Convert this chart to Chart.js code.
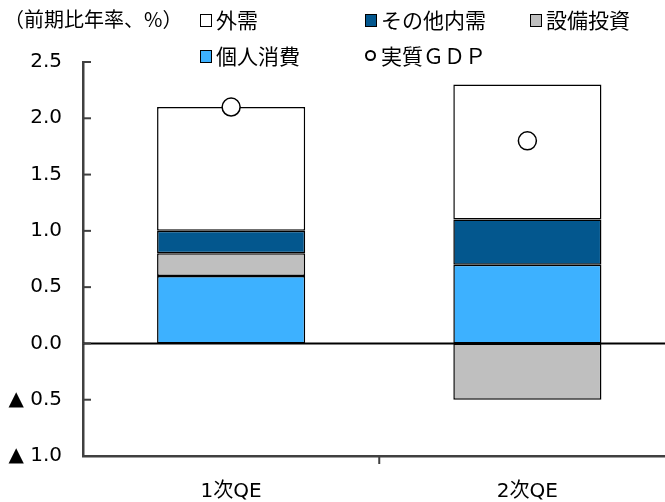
<!DOCTYPE html>
<html>
<head>
<meta charset="utf-8">
<script src="https://cdn.jsdelivr.net/npm/chart.js@4"></script>
<style>
  html, body { margin: 0; padding: 0; background: #fff; overflow: hidden; }
  #wrap { position: relative; width: 686px; height: 502px; }
  .lbl { position: absolute; font-family: "Noto Sans CJK JP", "DejaVu Sans", sans-serif; font-size: 21px; color: #000; white-space: nowrap; line-height: 1; }
  .box { display: inline-block; width: 10px; height: 11px; border: 1.5px solid #000; vertical-align: 1px; margin-right: 4px; }
  .dot { display: inline-block; width: 7px; height: 7px; border: 2px solid #000; border-radius: 50%; vertical-align: 3px; margin-right: 5px; }
</style>
</head>
<body>
<div id="wrap">
  <canvas id="chart" width="686" height="502"></canvas>
  <div class="lbl" style="left:4px; top:9px; font-size:20px;">（前期比年率、%）</div>
  <div class="lbl" style="left:200px; top:9px;"><span class="box" style="background:#fff"></span>外需</div>
  <div class="lbl" style="left:365px; top:9px;"><span class="box" style="background:#03578E"></span>その他内需</div>
  <div class="lbl" style="left:530px; top:9px;"><span class="box" style="background:#BFBFBF"></span>設備投資</div>
  <div class="lbl" style="left:200px; top:45px;"><span class="box" style="background:#3DB1FF"></span>個人消費</div>
  <div class="lbl" style="left:365px; top:45px;"><span class="dot"></span>実質ＧＤＰ</div>
</div>
<script>
// データ
const categories = ['1次QE', '2次QE'];
const kojinShohi = [0.6, 0.7];
const setsubiToshi = [0.2, -0.5];
const sonotaNaiju = [0.2, 0.4];
const gaiju = [1.1, 1.2];
const realGdp = [2.1, 1.8];
const yTicks = [-1.0, -0.5, 0.0, 0.5, 1.0, 1.5, 2.0, 2.5];

const colors = {
    lightBlue: '#3DB1FF',
    gray: '#BFBFBF',
    darkBlue: '#03578E',
    white: '#FFFFFF',
    axis: '#404040'
};

const numFont = { family: '"DejaVu Sans", "Noto Sans CJK JP", sans-serif', size: 20 };

// 目盛り線・ゼロ線を描くプラグイン
const axisPlugin = {
    id: 'axisPlugin',
    afterDatasetsDraw(chart) {
        const ctx = chart.ctx;
        const area = chart.chartArea;
        const y = chart.scales.y;
        const x = chart.scales.x;
        ctx.save();
        // ゼロ線
        ctx.strokeStyle = '#000';
        ctx.lineWidth = 2;
        ctx.beginPath();
        ctx.moveTo(area.left, y.getPixelForValue(0));
        ctx.lineTo(area.right, y.getPixelForValue(0));
        ctx.stroke();
        // y軸の内向き目盛り
        ctx.strokeStyle = colors.axis;
        ctx.lineWidth = 2;
        yTicks.forEach(v => {
            const py = y.getPixelForValue(v);
            ctx.beginPath();
            ctx.moveTo(area.left, py);
            ctx.lineTo(area.left + 8, py);
            ctx.stroke();
        });
        // x軸の区切り目盛り
        for (let i = 0; i < categories.length - 1; i++) {
            const px = (x.getPixelForValue(i) + x.getPixelForValue(i + 1)) / 2;
            ctx.beginPath();
            ctx.moveTo(px, area.bottom);
            ctx.lineTo(px, area.bottom + 8);
            ctx.stroke();
        }
        ctx.restore();
    }
};

new Chart(document.getElementById('chart'), {
    type: 'bar',
    data: {
        labels: categories,
        datasets: [
            { label: '実質ＧＤＰ', type: 'line', data: realGdp, stack: 'gdp', order: 0,
              showLine: false, pointStyle: 'circle', pointRadius: 9, pointHoverRadius: 9,
              pointBackgroundColor: colors.white, pointBorderColor: '#000', pointBorderWidth: 1.5 },
            { label: '個人消費', data: kojinShohi, backgroundColor: colors.lightBlue, stack: 's', order: 1 },
            { label: '設備投資', data: setsubiToshi, backgroundColor: colors.gray, stack: 's', order: 1 },
            { label: 'その他内需', data: sonotaNaiju, backgroundColor: colors.darkBlue, stack: 's', order: 1 },
            { label: '外需', data: gaiju, backgroundColor: colors.white, stack: 's', order: 1 }
        ]
    },
    options: {
        responsive: false,
        animation: false,
        layout: { padding: { top: 62, right: 0, left: 0, bottom: 0 } },
        elements: { bar: { borderColor: '#000', borderWidth: 1.5, borderSkipped: false } },
        datasets: { bar: { categoryPercentage: 1.0, barPercentage: 0.5 } },
        plugins: { legend: { display: false }, tooltip: { enabled: false } },
        scales: {
            x: {
                stacked: true,
                grid: { display: false, drawTicks: false },
                border: { display: true, color: colors.axis, width: 2.5 },
                ticks: { color: '#000', font: numFont, padding: 24 },
                afterFit(scale) { scale.height = 46; }
            },
            y: {
                stacked: true,
                min: -1.0,
                max: 2.5,
                afterBuildTicks(scale) { scale.ticks = yTicks.map(v => ({ value: v })); },
                grid: { display: false, drawTicks: false },
                border: { display: true, color: colors.axis, width: 2.5 },
                ticks: {
                    color: '#000',
                    font: numFont,
                    padding: 21,
                    callback: v => (v < 0 ? '▲ ' + Math.abs(v).toFixed(1) : v.toFixed(1))
                },
                afterFit(scale) { scale.width = 83; }
            }
        }
    },
    plugins: [axisPlugin]
});
</script>
</body>
</html>
